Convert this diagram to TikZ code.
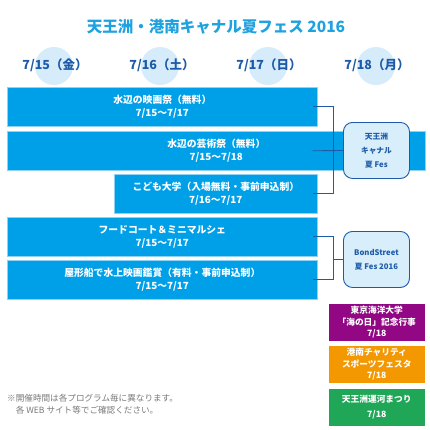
\documentclass[tikz,border=0pt]{standalone}
\usepackage{fontspec}
\setmainfont{Noto Sans CJK JP}
\newfontfamily\jp{Noto Sans CJK JP}
\usetikzlibrary{positioning}
\definecolor{titleblue}{HTML}{1FA2E0}
\definecolor{darkblue}{HTML}{1D5BA8}
\definecolor{circleblue}{HTML}{D6ECFA}
\definecolor{barblue}{HTML}{00A0E9}
\definecolor{barline}{HTML}{8ED3F5}
\definecolor{boxfill}{HTML}{D9EEFB}
\definecolor{evpurple}{HTML}{920783}
\definecolor{evorange}{HTML}{F39800}
\definecolor{evgreen}{HTML}{1FA657}
\definecolor{notegray}{HTML}{7A7A7A}
\tikzset{
  bar/.style={fill=barblue, draw=barline, line width=0.6pt, anchor=north west,
    minimum height=39pt, inner sep=0pt, text=white, align=center,
    font=\jp\bfseries\fontsize{9.8}{13}\selectfont},
  datelbl/.style={text=darkblue, font=\jp\bfseries\fontsize{12.5}{14}\selectfont},
  dcircle/.style={circle, fill=circleblue, minimum size=38pt, inner sep=0pt},
  fesbox/.style={rounded corners=9pt, fill=boxfill, draw=darkblue, line width=0.9pt,
    minimum width=66pt, minimum height=56pt, anchor=north west, inner sep=0pt,
    text=darkblue, align=center, font=\jp\bfseries\fontsize{7.7}{14}\selectfont},
  evbox/.style={anchor=north west, minimum width=97pt, minimum height=38pt, inner sep=0pt,
    text=white, align=center, draw=white, line width=0.5pt,
    font=\jp\bfseries\fontsize{8.7}{11.5}\selectfont},
  bracket/.style={draw=darkblue, line width=0.9pt},
}
\begin{document}
\begin{tikzpicture}[x=1pt,y=-1pt]
\useasboundingbox (0,0) rectangle (430,429);
\fill[white] (0,0) rectangle (430,429);
% title
\node[text=titleblue, font=\jp\bfseries\fontsize{15.5}{17}\selectfont] (title) at (216,27) {天王洲・港南キャナル夏フェス 2016};
% date headings
\node[dcircle] (c1) at (54,66) {};
\node[dcircle] (c2) at (160,66) {};
\node[dcircle] (c3) at (268,66) {};
\node[dcircle] (c4) at (376,66) {};
\node[datelbl] (d1) at (55,65) {7/15（金）};
\node[datelbl] (d2) at (162,65) {7/16（土）};
\node[datelbl] (d3) at (269,65) {7/17（日）};
\node[datelbl] (d4) at (377,65) {7/18（月）};
% bars
\node[bar, minimum width=310pt] (b1) at (7,87) {水辺の映画祭（無料）\\7/15〜7/17};
\node[bar, minimum width=418pt] (b2) at (7,131) {水辺の芸術祭（無料）\\7/15〜7/18};
\node[bar, minimum width=203pt] (b3) at (114,174) {こども大学（入場無料・事前申込制）\\7/16〜7/17};
\node[bar, minimum width=310pt] (b4) at (7,217) {フードコート＆ミニマルシェ\\7/15〜7/17};
\node[bar, minimum width=310pt] (b5) at (7,260) {屋形船で水上映画鑑賞（有料・事前申込制）\\7/15〜7/17};
% fes boxes
\node[fesbox] (f1) at (343,122) {天王洲\\キャナル\\夏 Fes};
\node[fesbox] (f2) at (343,231) {BondStreet\\夏 Fes 2016};
% brackets
\draw[bracket] ([xshift=-5pt]b1.east) -| ([xshift=16pt]b3.east) -- ([xshift=-5pt]b3.east);
\draw[bracket] ([xshift=-5pt]b1.east |- b2.center) -- (f1.west);
\draw[bracket] ([xshift=-5pt]b4.east) -| ([xshift=16pt]b5.east) -- ([xshift=-5pt]b5.east);
\draw[bracket] ([xshift=16pt]b4.east |- f2.west) -- (f2.west);
% event boxes
\node[evbox, fill=evpurple] (e1) at (328,303) {東京海洋大学\\「海の日」記念行事\\7/18};
\node[evbox, fill=evorange] (e2) at (328,345) {港南チャリティ\\スポーツフェスタ\\7/18};
\node[evbox, fill=evgreen, font=\jp\bfseries\fontsize{8.7}{15}\selectfont] (e3) at (328,388) {天王洲運河まつり\\7/18};
% note
\node[anchor=north west, text=notegray, align=left, inner sep=0pt,
  font=\jp\fontsize{8.6}{11.5}\selectfont] (note) at (7,394) {※開催時間は各プログラム毎に異なります。\\　各 WEB サイト等でご確認ください。};
\end{tikzpicture}
\end{document}
